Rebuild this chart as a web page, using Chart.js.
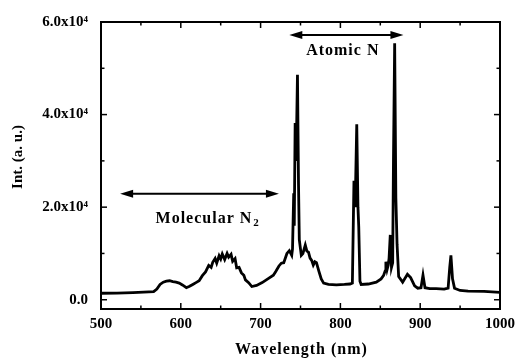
<!DOCTYPE html>
<html>
<head>
<meta charset="utf-8">
<script src="https://cdn.jsdelivr.net/npm/chart.js@4"></script>
<style>
  html, body { margin: 0; padding: 0; background: #fff; }
  canvas { display: block; }
</style>
</head>
<body>
<canvas id="chart" width="521" height="358"></canvas>
<script>
// Emission spectrum (nm, a.u.)
const wavelengths = [
  500, 520, 540, 560, 566, 570, 574, 578, 582, 586, 590, 594, 598, 602, 607, 611,
  615, 619, 623, 627, 631, 635, 638, 640, 643, 645, 648, 650, 652, 655, 658, 660,
  663, 665, 668, 670, 673, 676, 679, 681, 685, 689, 695, 702, 710, 716, 719, 723,
  726, 729, 733, 736, 739, 740, 741.5, 742.2, 743.3, 744.5, 746.2, 747.5, 748.5, 751,
  753, 756, 758, 760, 762, 764, 766, 768, 770, 773, 776, 779, 785, 795, 805, 812,
  815, 817, 818.5, 820.5, 822, 823, 824.5, 826, 835, 845, 851, 854, 856, 857,
  858.5, 860, 861, 862.5, 864, 865.5, 866.5, 868, 869.5, 871, 873, 878, 884, 888,
  893, 897, 901, 903.5, 906, 912, 920, 930, 935, 937, 938.5, 940.5, 943, 950,
  960, 980, 1000
];
const intensities = [
  1400, 1450, 1550, 1700, 1750, 2300, 3300, 3800, 4000, 4100, 3900, 3800, 3600, 3200, 2600, 2900,
  3300, 3700, 4100, 5200, 6000, 7400, 7000, 8100, 8900, 7900, 9500, 8800, 9900, 8700, 10000, 9200,
  9800, 8300, 8900, 6900, 7000, 5800, 5300, 4300, 3700, 2850, 3100, 3700, 4600, 5300, 6100, 7300,
  7900, 8000, 10000, 10600, 9600, 11000, 23000, 16000, 38200, 30000, 48600, 25000, 13000, 9600,
  10000, 11800, 10500, 10300, 9000, 8500, 7500, 8200, 8000, 6200, 4500, 3600, 3300, 3200, 3300, 3400,
  3600, 25700, 20000, 37900, 20000, 15700, 4000, 3300, 3400, 3800, 4500, 5200, 6200, 8200,
  6500, 7500, 9000, 14000, 7000, 8000, 30000, 55400, 22000, 12000, 5000, 3800, 5500, 4800,
  3000, 2500, 2600, 5300, 2600, 2400, 2400, 2300, 2500, 7000, 9600, 4500, 2500, 2000,
  1850, 1800, 1600
];

const xTickValues = [500, 600, 700, 800, 900, 1000];
const xMinorTicks = [550, 650, 750, 850, 950];
const yTickValues = [0, 20000, 40000, 60000];
const yTickLabels = ['0.0', '2.0x10\u2074', '4.0x10\u2074', '6.0x10\u2074'];
const yMinorTicks = [10000, 30000, 50000];

// double arrows: [x from, x to, y]
const atomicArrow = [736, 879, 57200];
const molecularArrow = [524, 723, 22900];

const serif = "'Liberation Serif', 'Times New Roman', serif";

function drawArrow(ctx, x1, x2, y) {
  const head = 13, half = 4;
  ctx.beginPath();
  ctx.moveTo(x1 + head - 2, y);
  ctx.lineTo(x2 - head + 2, y);
  ctx.stroke();
  ctx.beginPath();
  ctx.moveTo(x1, y);
  ctx.lineTo(x1 + head, y - half);
  ctx.lineTo(x1 + head, y + half);
  ctx.closePath();
  ctx.fill();
  ctx.beginPath();
  ctx.moveTo(x2, y);
  ctx.lineTo(x2 - head, y - half);
  ctx.lineTo(x2 - head, y + half);
  ctx.closePath();
  ctx.fill();
}

const framePlugin = {
  id: 'frame',
  afterDraw(chart) {
    const { ctx, chartArea: a, scales: { x, y } } = chart;
    ctx.save();
    ctx.strokeStyle = '#000';
    ctx.fillStyle = '#000';
    ctx.lineWidth = 2;
    ctx.strokeRect(a.left, a.top, a.right - a.left, a.bottom - a.top);

    // inward ticks on all four sides
    ctx.lineWidth = 1.5;
    const tick = (px1, py1, px2, py2) => {
      ctx.beginPath(); ctx.moveTo(px1, py1); ctx.lineTo(px2, py2); ctx.stroke();
    };
    xTickValues.concat(xMinorTicks).forEach(v => {
      const len = xTickValues.includes(v) ? 6 : 3.5;
      const px = x.getPixelForValue(v);
      tick(px, a.bottom, px, a.bottom - len);
      tick(px, a.top, px, a.top + len);
    });
    yTickValues.concat(yMinorTicks).forEach(v => {
      const len = yTickValues.includes(v) ? 6 : 3.5;
      const py = y.getPixelForValue(v);
      tick(a.left, py, a.left + len, py);
      tick(a.right, py, a.right - len, py);
    });

    // annotations
    ctx.lineWidth = 2;
    drawArrow(ctx, x.getPixelForValue(atomicArrow[0]), x.getPixelForValue(atomicArrow[1]),
      y.getPixelForValue(atomicArrow[2]));
    drawArrow(ctx, x.getPixelForValue(molecularArrow[0]), x.getPixelForValue(molecularArrow[1]),
      y.getPixelForValue(molecularArrow[2]));

    ctx.textBaseline = 'middle';
    ctx.textAlign = 'center';
    ctx.font = 'bold 16px ' + serif;
    ctx.letterSpacing = '1px';
    ctx.fillText('Atomic N', x.getPixelForValue(803), y.getPixelForValue(53800));
    const mx = x.getPixelForValue(629), my = y.getPixelForValue(17570);
    ctx.fillText('Molecular N', mx, my);
    const w = ctx.measureText('Molecular N').width;
    ctx.font = 'bold 11px ' + serif;
    ctx.letterSpacing = '0px';
    ctx.textAlign = 'left';
    ctx.fillText('2', mx + w / 2 + 1, my + 5);

    // axis titles
    ctx.textAlign = 'center';
    ctx.font = 'bold 16px ' + serif;
    ctx.letterSpacing = '1px';
    ctx.fillText('Wavelength (nm)', (a.left + a.right) / 2 + 1, 350);
    ctx.letterSpacing = '0px';
    ctx.font = 'bold 15px ' + serif;
    ctx.translate(18, 157);
    ctx.rotate(-Math.PI / 2);
    ctx.fillText('Int. (a. u.)', 0, 0);
    ctx.restore();
  }
};

const points = wavelengths.map((w, i) => ({ x: w, y: intensities[i] }));

new Chart(document.getElementById('chart').getContext('2d'), {
  type: 'line',
  data: {
    datasets: [{
      data: points,
      borderColor: '#000',
      borderWidth: 2.8,
      pointRadius: 0,
      tension: 0,
      fill: false
    }]
  },
  options: {
    responsive: false,
    animation: false,
    devicePixelRatio: 1,
    layout: { padding: { top: 20, right: 18, left: 0, bottom: 0 } },
    plugins: { legend: { display: false }, tooltip: { enabled: false } },
    scales: {
      x: {
        type: 'linear',
        min: 500,
        max: 1000,
        afterBuildTicks: s => { s.ticks = xTickValues.map(v => ({ value: v })); },
        afterFit: s => { s.height = 49; },
        grid: { display: false, drawTicks: false },
        border: { display: false },
        ticks: {
          padding: 6,
          color: '#000',
          maxRotation: 0,
          font: { family: serif, size: 15, weight: 'bold' },
          callback: v => String(v)
        }
      },
      y: {
        min: -2000,
        max: 60000,
        afterBuildTicks: s => { s.ticks = yTickValues.map(v => ({ value: v })); },
        afterFit: s => { s.width = 101; },
        grid: { display: false, drawTicks: false },
        border: { display: false },
        ticks: {
          padding: 13,
          color: '#000',
          font: { family: serif, size: 15, weight: 'bold' },
          callback: v => yTickLabels[yTickValues.indexOf(v)]
        }
      }
    }
  },
  plugins: [framePlugin]
});
</script>
</body>
</html>
